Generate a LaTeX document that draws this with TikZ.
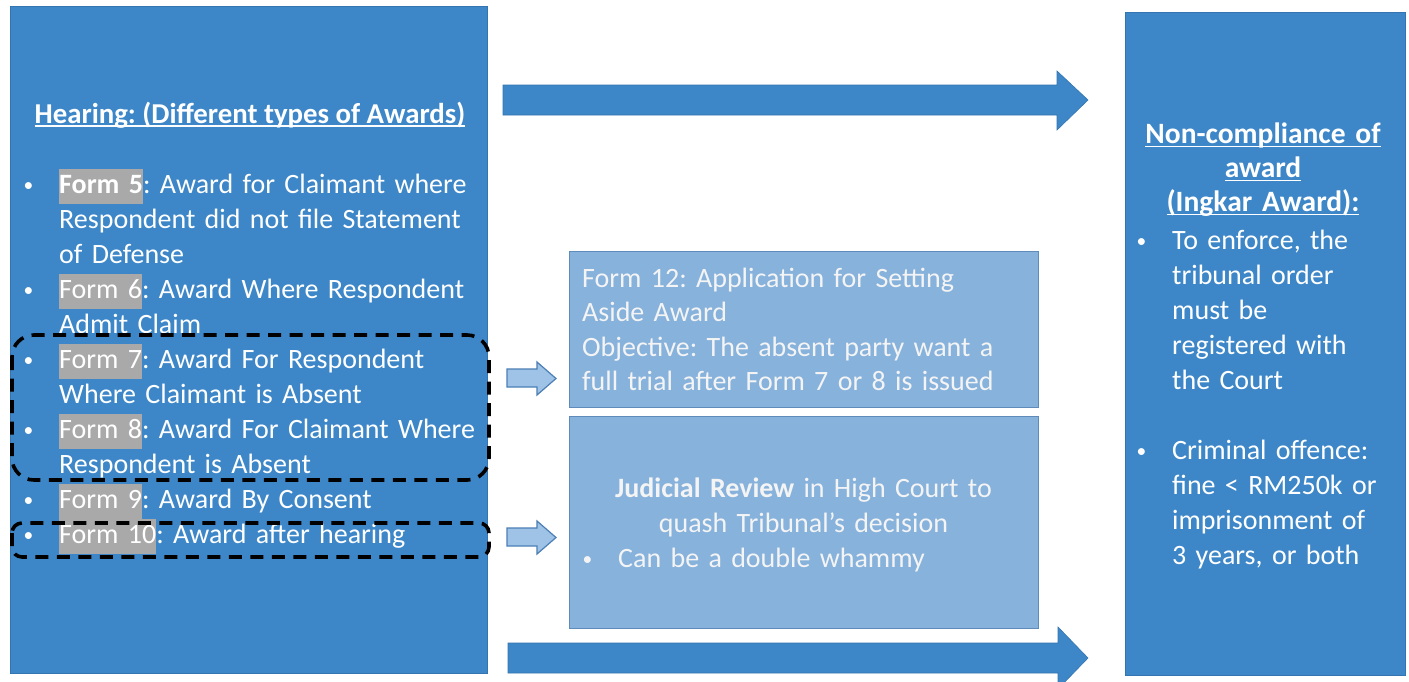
\documentclass[tikz,border=0pt]{standalone}
\usepackage{fontspec}
\setmainfont{Carlito}
\frenchspacing
\definecolor{dblue}{HTML}{3D87C8}
\definecolor{dborder}{HTML}{3474B0}
\definecolor{lblue}{HTML}{87B2DC}
\definecolor{lborder}{HTML}{5F8BBA}
\definecolor{hlgrey}{HTML}{A9A9A9}
\definecolor{harrow}{HTML}{9EC3E6}
\definecolor{harrowb}{HTML}{4C7FB5}
\definecolor{ltext}{HTML}{F4F4F4}
\newcommand\hlf[1]{{\setlength\fboxsep{0pt}\colorbox{hlgrey}{\strut#1}}}
\newcommand\dotb{\hspace{1.5pt}\raisebox{2.2pt}{\fontsize{19.5}{19.5}\selectfont •}}
\newcommand\bul{\makebox[37pt][l]{\dotb}}
\newcommand\ind{\hspace*{37pt}}
\newcommand\myul[1]{\setbox0\hbox{#1}\rlap{\rule[-3.8pt]{\wd0}{1.5pt}}\box0}
\begin{document}
\begin{tikzpicture}[x=1pt,y=-1pt,
  bigbox/.style={draw=dborder,line width=1pt,fill=dblue,inner sep=0pt,anchor=north west},
  litebox/.style={draw=lborder,line width=1pt,fill=lblue,inner sep=0pt,anchor=north west},
  txt/.style={text=white,inner sep=0pt,font=\fontsize{28}{35}\selectfont},
  ltxt/.style={text=ltext,inner sep=0pt,font=\fontsize{28}{34.5}\selectfont},
  bigarrow/.style={fill=dblue,draw=dborder,line width=0.6pt},
  hollowarrow/.style={fill=harrow,draw=harrowb,line width=1.2pt,line join=miter},
  dashbox/.style={draw=black,line width=3.6pt,dash pattern=on 13pt off 8.5pt}]
\useasboundingbox[fill=white] (0,0) rectangle (1409,681);

% boxes
\node[bigbox,minimum width=477,minimum height=667] (left) at (10,6) {};
\node[bigbox,minimum width=280,minimum height=663] (right) at (1125,12) {};
\node[litebox,minimum width=469,minimum height=156] (f12) at (569,251) {};
\node[litebox,minimum width=469,minimum height=212] (jr) at (569,416) {};

% left box text
\node[txt,anchor=base,font=\fontsize{28.8}{35}\selectfont] (ltitle) at (250,123) {\myul{\textbf{Hearing: (Different types of Awards)}}};
\node[txt,anchor=north west,text width=470pt,align=left] (list) at (22,168.5)
{\bul\hlf{\textbf{Form 5}}: Award for Claimant where\\
\ind\strut Respondent did not file Statement\\
\ind\strut of Defense\\
\bul\hlf{Form 6}: Award Where Respondent\\
\ind\strut Admit Claim\\
\bul\hlf{Form 7}: Award For Respondent\\
\ind\strut Where Claimant is Absent\\
\bul\hlf{Form 8}: Award For Claimant Where\\
\ind\strut Respondent is Absent\\
\bul\hlf{Form 9}: Award By Consent\\
\bul\hlf{Form 10}: Award after hearing};

% dashed groups
\draw[dashbox,rounded corners=22pt] (12,335) rectangle (489,480);
\draw[dashbox,rounded corners=10pt] (12,523) rectangle (489,557);

% middle texts
\node[ltxt,anchor=north west,text width=455pt,align=left] (f12t) at (582,262.85)
{\strut Form 12: Application for Setting\\
\strut Aside Award\\
\strut Objective: The absent party want a\\
\strut full trial after Form 7 or 8 is issued};
\node[ltxt,anchor=north,text width=460pt,align=center,font=\fontsize{28}{35}\selectfont] (jrt) at (803.5,472.5)
{\strut\textbf{Judicial Review} in High Court to\\
\strut quash Tribunal’s decision};
\node[ltxt,anchor=north west,text width=440pt,align=left,font=\fontsize{28}{35}\selectfont] (jrb) at (581,542.5)
{\strut\makebox[37pt][l]{\dotb}Can be a double whammy};

% right box text
\node[txt,anchor=north,text width=275pt,align=center,font=\fontsize{29.5}{34}\selectfont] (rtitle) at (1263,119.2)
{\strut\myul{\textbf{Non-compliance of}}\\
\strut\myul{\textbf{award}}\\
\strut\myul{\textbf{(Ingkar Award):}}};
\node[txt,anchor=north west,text width=270pt,align=left] (rlist) at (1135,224.5)
{\strut\bul To enforce, the\\
\ind\strut tribunal order\\
\ind\strut must be\\
\ind\strut registered with\\
\ind\strut the Court\\
\strut\\
\strut\bul Criminal offence:\\
\ind\strut fine < RM250k or\\
\ind\strut imprisonment of\\
\ind\strut 3 years, or both};

% big arrows (left -> right)
\fill[bigarrow] (503,85) -- (1057,85) -- (1057,71) -- (1088,100) -- (1057,130) -- (1057,115) -- (503,115) -- cycle;
\fill[bigarrow] (508,643) -- (1058,643) -- (1058,627) -- (1088,658) -- (1058,689) -- (1058,673) -- (508,673) -- cycle;

% hollow arrows
\draw[hollowarrow] (507,369) -- (537,369) -- (537,362) -- (556,378.5) -- (537,395) -- (537,387) -- (507,387) -- cycle;
\draw[hollowarrow] (507,528) -- (537,528) -- (537,521) -- (556,537.5) -- (537,554) -- (537,546) -- (507,546) -- cycle;
\end{tikzpicture}
\end{document}
